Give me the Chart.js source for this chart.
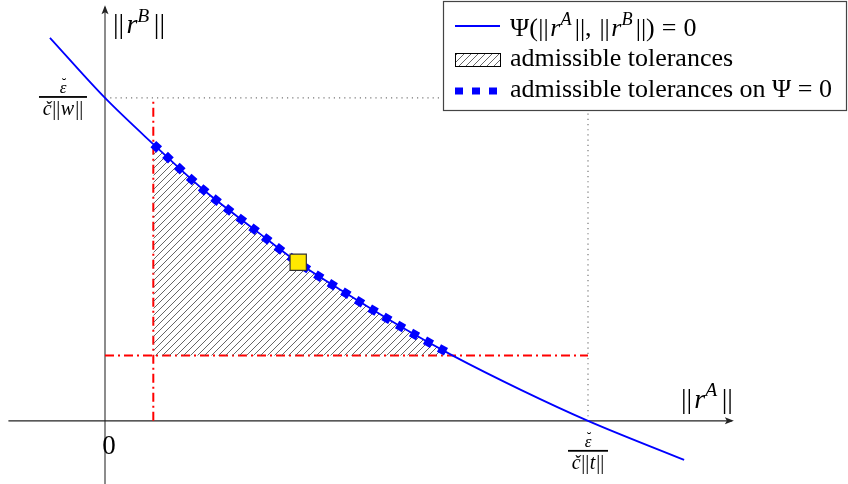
<!DOCTYPE html>
<html>
<head>
<meta charset="utf-8">
<script src="https://cdn.jsdelivr.net/npm/chart.js@4.4.0/dist/chart.umd.min.js"></script>
<style>
  html, body { margin: 0; padding: 0; background: #ffffff; }
  #wrap { width: 848px; height: 484px; position: relative; }
</style>
</head>
<body>
<div id="wrap"><canvas id="c" width="848" height="484"></canvas></div>
<script>
// ---- data (units: ||r^A|| scaled so the x-intercept is 1, ||r^B|| so the y-intercept is 1)
const curveX = [-0.114, 0, 0.1, 0.205, 0.309, 0.399, 0.5, 0.612, 0.72, 0.861, 1, 1.199];
const curveY = [1.186, 1, 0.857, 0.714, 0.593, 0.491, 0.394, 0.292, 0.202, 0.096, 0, -0.121];
// admissible part of the curve
const admX = [0.1, 0.205, 0.309, 0.399, 0.5, 0.612, 0.72];
const admY = [0.857, 0.714, 0.593, 0.491, 0.394, 0.292, 0.202];
// tolerance limits (red dash-dot lines)
const tolA = 0.1;
const tolB = 0.202;
// chosen point (yellow square)
const pickX = [0.4];
const pickY = [0.491];
// intercepts
const interceptX = 1;
const interceptY = 1;
// labels
const legendLabels = ["\u03A8(||r^A||, ||r^B||) = 0", "admissible tolerances", "admissible tolerances on \u03A8 = 0"];
const originLabel = "0";

const xMin = -0.2174, xMax = 1.5383, yMin = -0.1957, yMax = 1.3034;
const SERIF = '"Liberation Serif", "DejaVu Serif", serif';

const pts = (xs, ys) => xs.map((x, i) => ({x: x, y: ys[i]}));

// hatch pattern
function makeHatch(color) {
  const pc = document.createElement('canvas');
  pc.width = 7; pc.height = 7;
  const p = pc.getContext('2d');
  p.strokeStyle = color; p.lineWidth = 1;
  p.beginPath();
  p.moveTo(0, 7); p.lineTo(7, 0);
  p.moveTo(-1, 1); p.lineTo(1, -1);
  p.moveTo(6, 8); p.lineTo(8, 6);
  p.stroke();
  return p.createPattern(pc, 'repeat');
}
const hatch = makeHatch('#666');

// rich text: segments [text, italic, sup, extraGapAfter]
function segFont(s, size) {
  const fs = s[2] ? size * 0.7 : size;
  return (s[1] ? 'italic ' : '') + fs + 'px ' + SERIF;
}
function segW(ctx, s, size) {
  ctx.font = segFont(s, size);
  return ctx.measureText(s[0]).width + (s[3] || 0) * size;
}
function richWidth(ctx, segs, size) {
  let w = 0;
  segs.forEach(s => { w += segW(ctx, s, size); });
  return w;
}
function drawRich(ctx, segs, x, y, size, align) {
  const w = richWidth(ctx, segs, size);
  let cx = align === 'center' ? x - w / 2 : (align === 'right' ? x - w : x);
  ctx.textBaseline = 'alphabetic';
  ctx.textAlign = 'left';
  segs.forEach(s => {
    ctx.font = segFont(s, size);
    ctx.fillText(s[0], cx, s[2] ? y - size * 0.42 : y);
    cx += segW(ctx, s, size);
  });
}
function normSegs(sup) {
  return [["||", 0, 0, 0.08], ["r", 1], [sup, 1, 1, 0.16], ["||", 0]];
}
function fraction(ctx, cx, barY, barW, denom) {
  ctx.save();
  ctx.fillStyle = '#000';
  ctx.fillRect(cx - barW / 2, barY - 0.9, barW, 1.8);
  ctx.font = 'italic 17px ' + SERIF;
  ctx.textAlign = 'center';
  ctx.textBaseline = 'alphabetic';
  ctx.fillText('\u03B5', cx, barY - 4);
  ctx.font = '14px ' + SERIF;
  ctx.fillText('\u02D8', cx + 1, barY - 9);
  drawRich(ctx, [["\u010D", 1, 0, 0.03], ["||", 0, 0, 0.03], [denom, 1, 0, 0.05], ["||", 0]], cx, barY + 18, 20, 'center');
  ctx.restore();
}

const decor = {
  id: 'decor',
  beforeDatasetsDraw(chart) {
    const ctx = chart.ctx;
    const xs = chart.scales.x, ys = chart.scales.y;
    const x0 = xs.getPixelForValue(0), y0 = ys.getPixelForValue(0);
    ctx.save();
    // y axis
    const yTop = ys.getPixelForValue(1.287);
    ctx.strokeStyle = '#666'; ctx.lineWidth = 1.5;
    ctx.beginPath(); ctx.moveTo(x0, ys.getPixelForValue(yMin)); ctx.lineTo(x0, yTop + 2); ctx.stroke();
    ctx.fillStyle = '#222';
    ctx.beginPath();
    ctx.moveTo(x0, yTop); ctx.lineTo(x0 - 3.5, yTop + 9); ctx.lineTo(x0, yTop + 7); ctx.lineTo(x0 + 3.5, yTop + 9); ctx.closePath(); ctx.fill();
    // x axis
    const xL = xs.getPixelForValue(-0.2), xR = xs.getPixelForValue(1.302);
    ctx.strokeStyle = '#222'; ctx.lineWidth = 1.2;
    ctx.beginPath(); ctx.moveTo(xL, y0); ctx.lineTo(xR - 2, y0); ctx.stroke();
    ctx.beginPath();
    ctx.moveTo(xR, y0); ctx.lineTo(xR - 9, y0 - 3.5); ctx.lineTo(xR - 7, y0); ctx.lineTo(xR - 9, y0 + 3.5); ctx.closePath(); ctx.fill();
    ctx.restore();
  },
  afterDatasetsDraw(chart) {
    const ctx = chart.ctx;
    const xs = chart.scales.x, ys = chart.scales.y;
    const x0 = xs.getPixelForValue(0), y0 = ys.getPixelForValue(0);
    ctx.save();
    ctx.fillStyle = '#000';
    // axis labels
    drawRich(ctx, normSegs('B'), x0 + 8, ys.getPixelForValue(1.2), 28, 'left');
    drawRich(ctx, normSegs('A'), xs.getPixelForValue(1.3), y0 - 13, 28, 'right');
    // origin tick label
    ctx.font = '27px ' + SERIF;
    ctx.textAlign = 'center'; ctx.textBaseline = 'alphabetic';
    ctx.fillText(originLabel, x0 + 4, y0 + 33);
    // fraction ticks
    fraction(ctx, xs.getPixelForValue(-0.087), ys.getPixelForValue(interceptY) - 1, 48, 'w');
    fraction(ctx, xs.getPixelForValue(interceptX), y0 + 30, 40, 't');

    // legend
    const L = 443, T = 1, R = 847, B = 111;
    ctx.fillStyle = '#fff';
    ctx.fillRect(L, T, R - L, B - T);
    ctx.strokeStyle = '#444'; ctx.lineWidth = 1.2;
    ctx.strokeRect(L + 0.5, T + 0.5, R - L - 1, B - T - 1);
    const sx0 = 455, sx1 = 500, tx = 510;
    // row 1
    ctx.strokeStyle = '#0000ff'; ctx.lineWidth = 1.8;
    ctx.beginPath(); ctx.moveTo(sx0, 26); ctx.lineTo(sx1, 26); ctx.stroke();
    ctx.fillStyle = '#000';
    drawRich(ctx, [["\u03A8(", 0, 0, 0.02], ["||", 0, 0, 0.06], ["r", 1], ["A", 1, 1, 0.12], ["||, ", 0, 0, 0.05], ["||", 0, 0, 0.06],
      ["r", 1], ["B", 1, 1, 0.12], ["||)", 0, 0, 0.02], [" = ", 0, 0, 0.02], ["0", 0]], tx, 36, 26, 'left');
    // row 2
    ctx.fillStyle = hatch;
    ctx.fillRect(sx0, 53, sx1 - sx0, 14);
    ctx.strokeStyle = '#000'; ctx.lineWidth = 1;
    ctx.strokeRect(sx0 + 0.5, 53.5, sx1 - sx0, 13);
    ctx.fillStyle = '#000';
    ctx.font = '26px ' + SERIF; ctx.textAlign = 'left'; ctx.textBaseline = 'alphabetic';
    ctx.fillText(legendLabels[1], tx, 66);
    // row 3
    ctx.strokeStyle = '#0000ff'; ctx.lineWidth = 7; ctx.setLineDash([8, 9]);
    ctx.beginPath(); ctx.moveTo(sx0, 91); ctx.lineTo(sx1, 91); ctx.stroke();
    ctx.setLineDash([]);
    ctx.fillText(legendLabels[2], tx, 97);
    ctx.restore();
  }
};

new Chart(document.getElementById('c'), {
  type: 'line',
  data: {
    datasets: [
      { label: 'pick', data: pts(pickX, pickY), showLine: false, pointStyle: 'rect', pointRadius: 11.5,
        pointBackgroundColor: '#ffe800', pointBorderColor: '#333', pointBorderWidth: 1.2 },
      { label: legendLabels[0], data: pts(curveX, curveY), borderColor: '#0000ff', borderWidth: 1.8,
        pointRadius: 0, cubicInterpolationMode: 'monotone', fill: false },
      { label: legendLabels[2], data: pts(admX, admY), borderColor: '#0000ff', borderWidth: 8.5,
        borderDash: [8, 8], borderCapStyle: 'butt', pointRadius: 0, cubicInterpolationMode: 'monotone', fill: false },
      { label: legendLabels[1], data: pts(admX, admY), borderWidth: 0, borderColor: 'rgba(0,0,0,0)',
        backgroundColor: hatch, pointRadius: 0, cubicInterpolationMode: 'monotone', fill: { value: tolB } },
      { label: 'tolA', data: [{x: tolA, y: 0}, {x: tolA, y: interceptY}], borderColor: '#ff0000', borderWidth: 2,
        borderDash: [9, 4, 2, 4], pointRadius: 0, fill: false },
      { label: 'tolB', data: [{x: 0, y: tolB}, {x: interceptX, y: tolB}], borderColor: '#ff0000', borderWidth: 2,
        borderDash: [9, 4, 2, 4], pointRadius: 0, fill: false },
      { label: 'dotH', data: [{x: 0, y: interceptY}, {x: interceptX, y: interceptY}], borderColor: '#777', borderWidth: 1.2,
        borderDash: [1.2, 4], pointRadius: 0, fill: false },
      { label: 'dotV', data: [{x: interceptX, y: interceptY}, {x: interceptX, y: 0}], borderColor: '#777', borderWidth: 1.2,
        borderDash: [1.2, 4], pointRadius: 0, fill: false }
    ]
  },
  options: {
    responsive: false,
    animation: false,
    devicePixelRatio: 1,
    layout: { padding: 0, autoPadding: false },
    plugins: { legend: { display: false }, tooltip: { enabled: false } },
    scales: {
      x: { type: 'linear', min: xMin, max: xMax, display: false },
      y: { type: 'linear', min: yMin, max: yMax, display: false }
    }
  },
  plugins: [decor]
});
</script>
</body>
</html>
